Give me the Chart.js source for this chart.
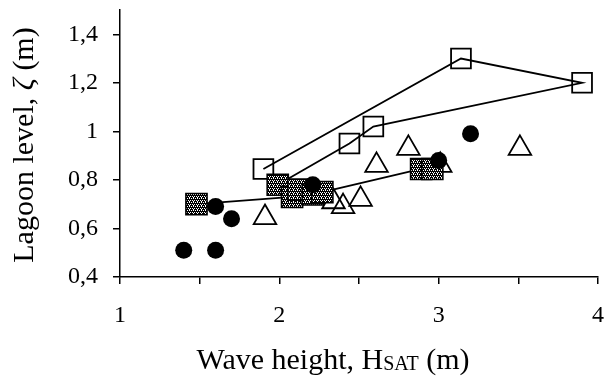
<!DOCTYPE html>
<html>
<head>
<meta charset="utf-8">
<script src="https://cdn.jsdelivr.net/npm/chart.js@4"></script>
<style>
  html, body { margin: 0; padding: 0; background: #fff; }
</style>
</head>
<body>
<canvas id="chart" width="608" height="377"></canvas>
<script>
// wave height (m) and lagoon level (m)
const openSquareH = [1.90, 2.44, 2.59, 3.14, 3.90];
const openSquareLevel = [0.845, 0.95, 1.02, 1.30, 1.20];

const hatchedH = [1.48, 1.99, 2.08, 2.12, 2.21, 2.27, 2.89, 2.96];
const hatchedLevel = [0.70, 0.78, 0.73, 0.76, 0.74, 0.75, 0.845, 0.845];

const triangleH = [1.91, 2.34, 2.40, 2.51, 2.61, 2.81, 3.01, 3.51];
const triangleLevel = [0.645, 0.71, 0.69, 0.72, 0.86, 0.93, 0.86, 0.93];

const circleH = [1.40, 1.60, 1.60, 1.70, 2.21, 3.00, 3.20];
const circleLevel = [0.51, 0.51, 0.69, 0.64, 0.78, 0.88, 0.99];

// connecting lines: [series, index] in drawing order
const openTrack = [['open', 0], ['open', 3], ['open', 4], ['open', 2], ['open', 1], ['hatched', 1]];
const hatchedTrack = [['hatched', 0], ['hatched', 2], ['hatched', 4], ['hatched', 5], ['hatched', 6]];

const xTicks = [1, 2, 3, 4];
const yTicks = [0.4, 0.6, 0.8, 1.0, 1.2, 1.4];
const yTitleParts = ['Lagoon level, ', '\u03B6', ' (m)'];
const xTitleParts = ['Wave height, H', 'SAT', ' (m)'];

const series = {
    open: { x: openSquareH, y: openSquareLevel },
    hatched: { x: hatchedH, y: hatchedLevel }
};

const toPoints = (xs, ys) => xs.map((x, i) => ({ x, y: ys[i] }));
const trackPoints = track => track.map(([s, i]) => ({ x: series[s].x[i], y: series[s].y[i] }));

// small dark tile for the shaded squares
function makeHatch() {
    const c = document.createElement('canvas');
    c.width = 4; c.height = 4;
    const g = c.getContext('2d');
    g.fillStyle = '#000';
    g.fillRect(0, 0, 4, 4);
    g.fillStyle = '#fff';
    g.fillRect(0, 0, 1, 1);
    g.fillRect(2, 0, 1, 1);
    g.fillRect(1, 2, 1, 1);
    g.fillRect(3, 2, 1, 1);
    g.fillRect(1, 1, 1, 1);
    return g.createPattern(c, 'repeat');
}

const serif = 'Liberation Serif';

// draw a run of text pieces, each with its own font
function drawRun(ctx, parts, fonts, drops, cx, baseline) {
    let total = 0;
    const widths = parts.map((t, i) => {
        ctx.font = fonts[i];
        const w = ctx.measureText(t).width;
        total += w;
        return w;
    });
    let x = cx - total / 2;
    parts.forEach((t, i) => {
        ctx.font = fonts[i];
        ctx.fillText(t, x, baseline + drops[i]);
        x += widths[i];
    });
}

// axis titles with subscript / italic pieces
const titlesPlugin = {
    id: 'titles',
    afterDraw(chart) {
        const ctx = chart.ctx;
        ctx.save();
        ctx.fillStyle = '#000';
        ctx.textBaseline = 'alphabetic';
        drawRun(ctx, xTitleParts,
            ['30px "' + serif + '"', '20px "' + serif + '"', '30px "' + serif + '"'],
            [0, 1, 0], 333, 369);
        ctx.translate(33, 145);
        ctx.rotate(-Math.PI / 2);
        drawRun(ctx, yTitleParts,
            ['30px "' + serif + '"', 'italic 30px "' + serif + '"', '30px "' + serif + '"'],
            [0, 0, 0], 0, 0);
        ctx.restore();
    }
};

const fmt = v => String(+(+v).toFixed(1)).replace('.', ',');

new Chart(document.getElementById('chart'), {
    type: 'scatter',
    data: {
        datasets: [
            {
                label: 'circles',
                data: toPoints(circleH, circleLevel),
                pointStyle: 'circle',
                pointRadius: 8.5,
                backgroundColor: '#000',
                borderColor: '#000',
                borderWidth: 0
            },
            {
                label: 'shaded squares',
                data: toPoints(hatchedH, hatchedLevel),
                pointStyle: 'rect',
                pointRadius: 15,
                backgroundColor: makeHatch(),
                borderColor: '#000',
                borderWidth: 1.5
            },
            {
                label: 'shaded line',
                data: trackPoints(hatchedTrack),
                showLine: true,
                pointRadius: 0,
                borderColor: '#000',
                borderWidth: 1.8
            },
            {
                label: 'triangles',
                data: toPoints(triangleH, triangleLevel),
                pointStyle: 'triangle',
                pointRadius: 13,
                backgroundColor: 'rgba(0,0,0,0)',
                borderColor: '#000',
                borderWidth: 1.8
            },
            {
                label: 'open squares',
                data: toPoints(openSquareH, openSquareLevel),
                pointStyle: 'rect',
                pointRadius: 14,
                backgroundColor: 'rgba(0,0,0,0)',
                borderColor: '#000',
                borderWidth: 1.8
            },
            {
                label: 'open line',
                data: trackPoints(openTrack),
                showLine: true,
                pointRadius: 0,
                borderColor: '#000',
                borderWidth: 1.8
            }
        ]
    },
    options: {
        responsive: false,
        animation: false,
        layout: { padding: 0, autoPadding: false },
        plugins: { legend: { display: false }, tooltip: { enabled: false } },
        scales: {
            x: {
                type: 'linear',
                min: 1, max: 4,
                afterFit(s) {
                    s.height = 100;
                    s.paddingLeft = 0;
                    s.paddingRight = 10;
                },
                ticks: {
                    stepSize: 0.5,
                    padding: 17,
                    maxRotation: 0,
                    color: '#000',
                    font: { family: serif, size: 24 },
                    callback: v => xTicks.includes(v) ? String(v) : ''
                },
                grid: { drawOnChartArea: false, tickLength: 7, color: '#000', lineWidth: 1.5 },
                border: { color: '#000', width: 1.5 }
            },
            y: {
                min: 0.4, max: 1.5,
                afterFit(s) {
                    s.width = 120;
                    s.paddingTop = 10;
                    s.paddingBottom = 0;
                },
                afterBuildTicks(s) {
                    s.ticks = yTicks.map(v => ({ value: v }));
                },
                ticks: {
                    padding: 15,
                    color: '#000',
                    font: { family: serif, size: 24 },
                    callback: v => fmt(v)
                },
                grid: { drawOnChartArea: false, tickLength: 7, color: '#000', lineWidth: 1.5 },
                border: { color: '#000', width: 1.5 }
            }
        }
    },
    plugins: [titlesPlugin]
});
</script>
</body>
</html>
